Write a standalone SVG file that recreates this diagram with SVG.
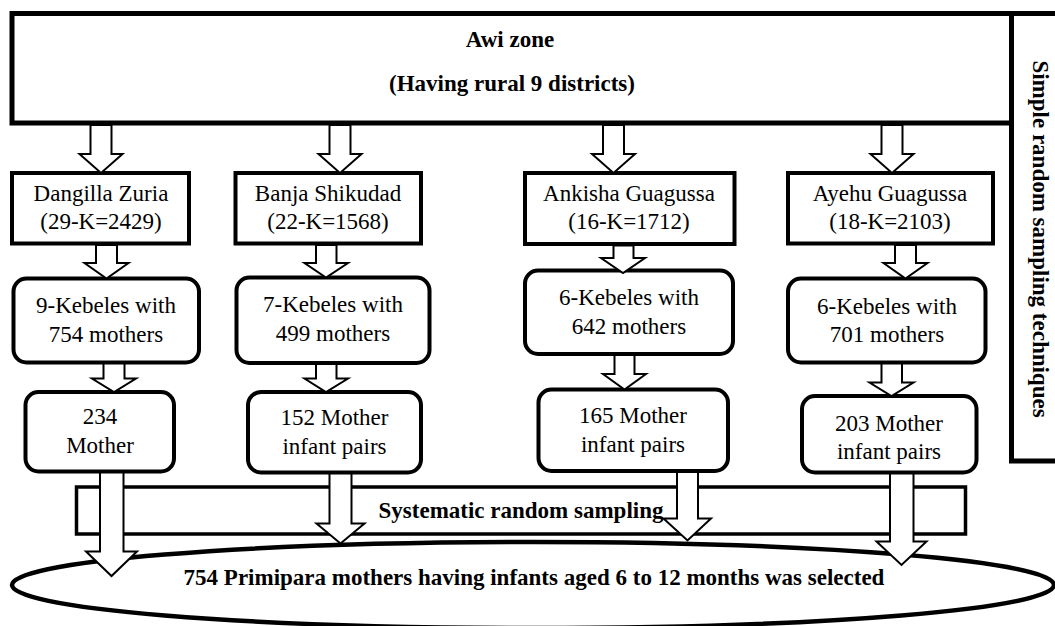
<svg xmlns="http://www.w3.org/2000/svg" width="1055" height="626" viewBox="0 0 1055 626">
<style>
.box{fill:#fff;stroke:#000;stroke-width:4}
.thick{stroke-width:5}
.sys{stroke-width:3.5}
.arrow{fill:#fff;stroke:#000;stroke-width:2;stroke-linejoin:miter}
.t{font-family:"Liberation Serif","Times New Roman",serif;font-size:23px;text-anchor:middle;fill:#000}
.b{font-weight:bold}
</style>
<rect width="1055" height="626" fill="#fff"/>
<g id="awi-zone">
<rect class="box thick" x="12" y="13.5" width="999.5" height="109.5"/>
<text class="t b" x="510" y="47">Awi zone</text>
<text class="t b" x="512" y="91">(Having rural 9 districts)</text>
</g>
<g id="sampling-technique">
<rect class="box thick" x="1011.5" y="13.5" width="60" height="447.5"/>
<text class="t b" transform="translate(1033,239) rotate(90)">Simple random sampling techniques</text>
</g>
<g id="dangilla">
<rect class="box" x="12" y="173" width="177" height="70.5"/>
<text class="t" x="101" y="201">Dangilla Zuria</text>
<text class="t" x="101" y="229">(29-K=2429)</text>
</g>
<g id="banja">
<rect class="box" x="235.5" y="173" width="185.5" height="70.5"/>
<text class="t" x="328" y="201">Banja Shikudad</text>
<text class="t" x="328" y="229">(22-K=1568)</text>
</g>
<g id="ankisha">
<rect class="box" x="525" y="173" width="209.5" height="71"/>
<text class="t" x="629" y="201">Ankisha Guagussa</text>
<text class="t" x="629" y="229">(16-K=1712)</text>
</g>
<g id="ayehu">
<rect class="box" x="788" y="173" width="205" height="70.5"/>
<text class="t" x="890" y="201">Ayehu Guagussa</text>
<text class="t" x="890" y="229">(18-K=2103)</text>
</g>
<g id="kebele-dangilla">
<rect class="box" x="13.5" y="278.5" width="185.5" height="84" rx="13"/>
<text class="t" x="106" y="313">9-Kebeles with</text>
<text class="t" x="106" y="341.5">754 mothers</text>
</g>
<g id="kebele-banja">
<rect class="box" x="236.5" y="277.5" width="193" height="85.5" rx="13"/>
<text class="t" x="333" y="312">7-Kebeles with</text>
<text class="t" x="333" y="340.5">499 mothers</text>
</g>
<g id="kebele-ankisha">
<rect class="box" x="525" y="270.5" width="208" height="83.5" rx="13"/>
<text class="t" x="629" y="305">6-Kebeles with</text>
<text class="t" x="629" y="333.5">642 mothers</text>
</g>
<g id="kebele-ayehu">
<rect class="box" x="788" y="278.5" width="197.5" height="84" rx="13"/>
<text class="t" x="887" y="313.5">6-Kebeles with</text>
<text class="t" x="887" y="342">701 mothers</text>
</g>
<g id="sample-dangilla">
<rect class="box" x="25.5" y="392" width="148.5" height="79.5" rx="13"/>
<text class="t" x="100" y="424">234</text>
<text class="t" x="100" y="452.5">Mother</text>
</g>
<g id="sample-banja">
<rect class="box" x="248" y="392" width="173" height="80.5" rx="13"/>
<text class="t" x="334.5" y="424.5">152 Mother</text>
<text class="t" x="334.5" y="453.5">infant pairs</text>
</g>
<g id="sample-ankisha">
<rect class="box" x="538.5" y="389.5" width="189.5" height="81.5" rx="13"/>
<text class="t" x="633" y="423">165 Mother</text>
<text class="t" x="633" y="451.5">infant pairs</text>
</g>
<g id="sample-ayehu">
<rect class="box" x="802" y="396" width="174.5" height="76.5" rx="13"/>
<text class="t" x="889" y="430.5">203 Mother</text>
<text class="t" x="889" y="459">infant pairs</text>
</g>
<g id="systematic">
<rect class="box sys" x="76.5" y="487" width="889" height="47"/>
<text class="t b" x="521" y="518">Systematic random sampling</text>
</g>
<g id="selected">
<ellipse cx="533" cy="585" rx="521" ry="43" fill="#fff" stroke="#000" stroke-width="4.5"/>
</g>
<g id="connectors">
<polygon class="arrow" points="90.5,125 90.5,154 79.5,154 101,173 122.5,154 111.5,154 111.5,125"/>
<polygon class="arrow" points="329.5,125 329.5,154 318.5,154 340,173 361.5,154 350.5,154 350.5,125"/>
<polygon class="arrow" points="603,125 603,154 592,154 613.5,173 635,154 624,154 624,125"/>
<polygon class="arrow" points="881.5,125 881.5,154 870.5,154 892,173 913.5,154 902.5,154 902.5,125"/>
<polygon class="arrow" points="96,245 96,263 84.5,263 106.5,278.5 128.5,263 117,263 117,245"/>
<polygon class="arrow" points="316,245 316,263 304.5,263 326,277.5 348,263 336.5,263 336.5,245"/>
<polygon class="arrow" points="613.5,245.5 613.5,258 601,258 623,273 645,258 633.5,258 633.5,245.5"/>
<polygon class="arrow" points="895,245 895,263 883.5,263 905.5,278.5 927.5,263 916,263 916,245"/>
<polygon class="arrow" points="103.5,363.5 103.5,378.5 92,378.5 114,392 136,378.5 124.5,378.5 124.5,363.5"/>
<polygon class="arrow" points="316,364 316,378.5 304.5,378.5 326,392 348,378.5 336.5,378.5 336.5,364"/>
<polygon class="arrow" points="614.5,355 614.5,374 603,374 624.5,389.5 646,374 634.5,374 634.5,355"/>
<polygon class="arrow" points="881.5,363.5 881.5,382.5 869.5,382.5 891.5,396 913.5,382.5 902,382.5 902,363.5"/>
<polygon class="arrow" points="100,472.5 100,551.5 86,551.5 111.5,576 137,551.5 123.5,551.5 123.5,472.5"/>
<polygon class="arrow" points="329.5,473.5 329.5,523.5 316.5,523.5 340.5,543.5 364.5,523.5 351.5,523.5 351.5,473.5"/>
<polygon class="arrow" points="677,472 677,518.5 663.5,518.5 687.5,540.5 711,518.5 698,518.5 698,472"/>
<polygon class="arrow" points="890,473.5 890,541.5 876.5,541.5 901.5,565 926.5,541.5 913.5,541.5 913.5,473.5"/>
</g>
<text class="t b" x="534" y="585">754 Primipara mothers having infants aged 6 to 12 months was selected</text>
</svg>
